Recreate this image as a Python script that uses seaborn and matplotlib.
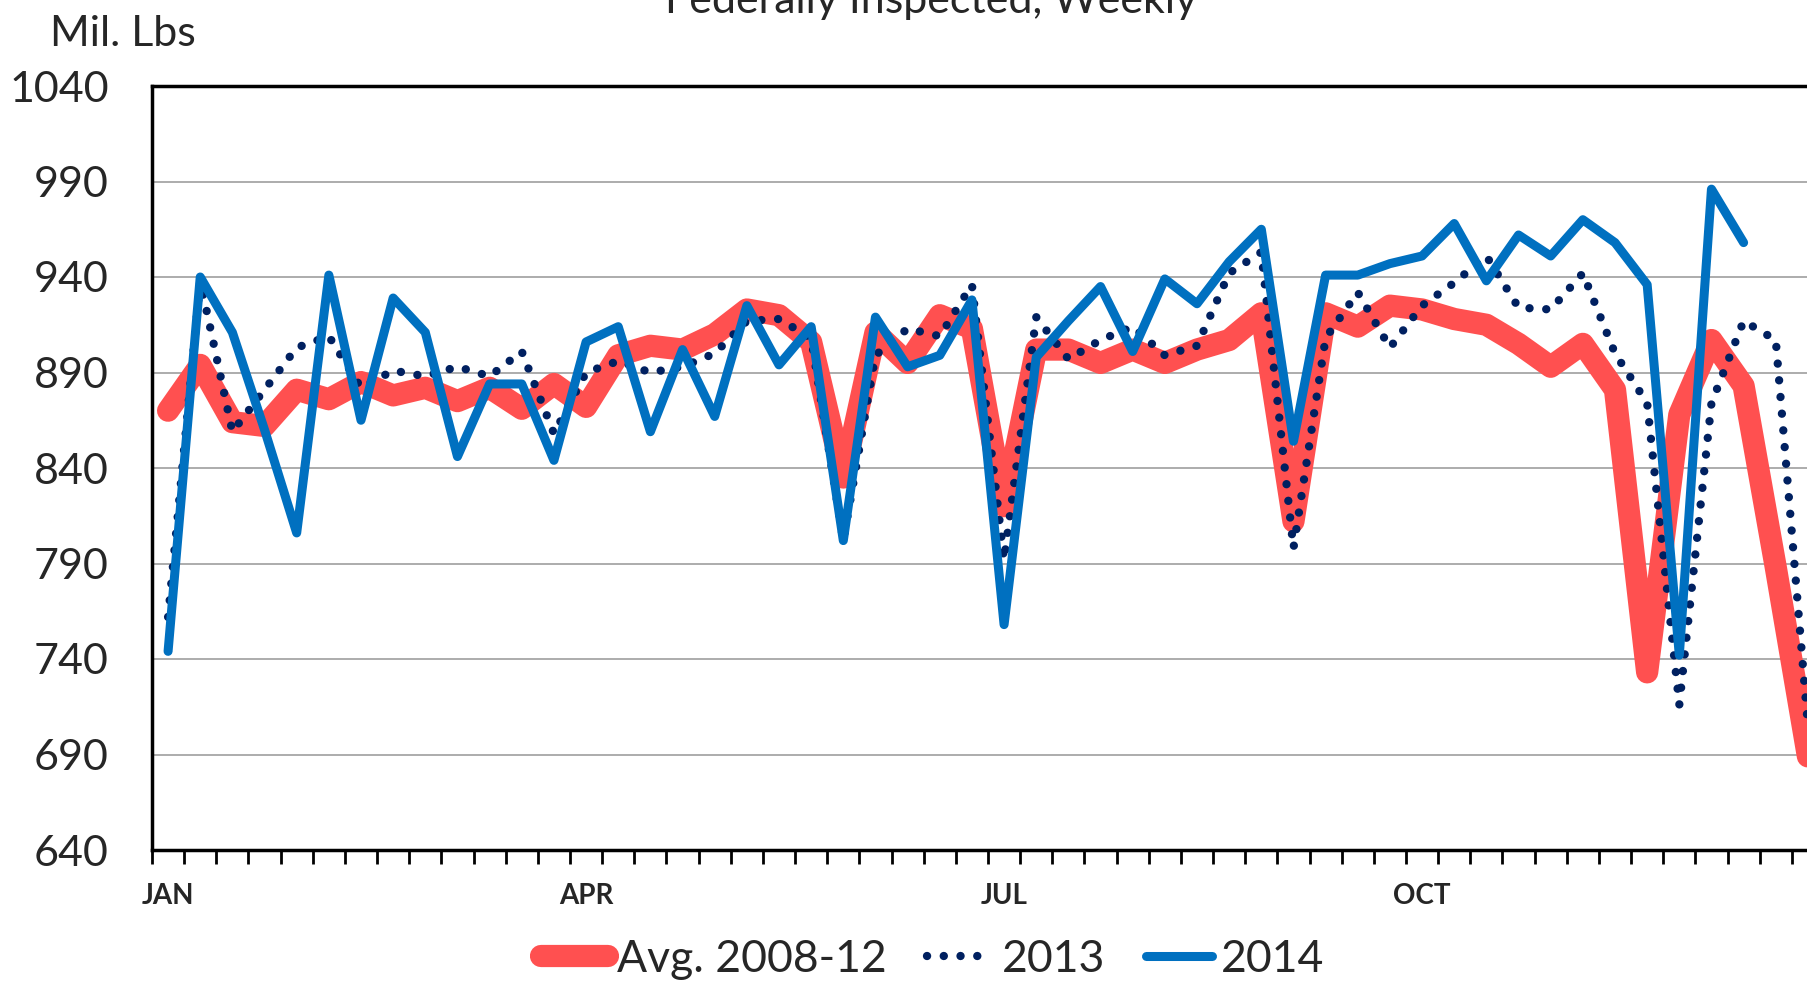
import numpy as np
import pandas as pd
import matplotlib
matplotlib.use("Agg")
import matplotlib.pyplot as plt
import seaborn as sns
from matplotlib.ticker import FixedLocator

# weekly data, week 0 = first week of January
month_labels = ["JAN", "APR", "JUL", "OCT"]
month_weeks = [0, 13, 26, 39]

avg_2008_12 = [870, 894, 864, 862, 881, 876, 885, 878, 882, 875,
               882, 871, 884, 872, 899, 904, 902, 910, 923, 920,
               906, 835, 911, 895, 920, 913, 820, 902, 902, 895,
               902, 895, 902, 907, 921, 812, 921, 914, 925, 923,
               918, 915, 905, 893, 905, 881, 733, 868, 907, 883,
               788, 689]
y2013 = [762, 938, 859, 881, 903, 909, 882, 891, 888, 893,
         888, 901, 858, 890, 896, 890, 893, 900, 917, 918,
         908, 802, 899, 913, 909, 936, 792, 919, 897, 907,
         914, 899, 904, 942, 953, 798, 908, 932, 903, 925,
         937, 951, 924, 923, 942, 900, 874, 716, 874, 917,
         907, 705]
y2014 = [744, 940, 911, 860, 806, 941, 865, 929, 911, 846,
         884, 884, 844, 906, 914, 859, 902, 867, 925, 894,
         914, 802, 919, 893, 899, 928, 758, 898, 917, 935,
         901, 939, 926, 948, 965, 854, 941, 941, 947, 951,
         968, 938, 962, 951, 970, 958, 936, 742, 986, 958]

sns.set_style("white")
plt.rcParams['font.family'] = ['Lato', 'DejaVu Sans']

W, H = 1807, 981
fig = plt.figure(figsize=(W / 100, H / 100), dpi=100)
# plot area runs past the right edge of the picture, like the cropped original
ax = fig.add_axes([152 / W, 1 - 850 / H, 1672 / W, (850 - 86) / H])

sns.lineplot(x=np.arange(len(avg_2008_12)), y=avg_2008_12, ax=ax, color='#FF5050',
             lw=16, label='Avg. 2008-12', legend=False)
sns.lineplot(x=np.arange(len(y2013)), y=y2013, ax=ax, color='#002060',
             lw=6, label='2013', legend=False)
sns.lineplot(x=np.arange(len(y2014)), y=y2014, ax=ax, color='#0070C0',
             lw=6.5, label='2014', legend=False)

red, dotted, blue = ax.lines[:3]
for ln in (red, blue):
    ln.set_solid_capstyle('round')
    ln.set_solid_joinstyle('round')
dotted.set_linestyle((0, (0.01, 2.0)))
dotted.set_dash_capstyle('round')

ax.set_xlim(-0.5, 51.5)
ax.set_ylim(640, 1040)
ax.set_yticks(range(640, 1041, 50))
ax.set_xticks(month_weeks)
ax.set_xticklabels(month_labels, fontsize=20, fontweight='bold')
ax.xaxis.set_minor_locator(FixedLocator(np.arange(-0.5, 52, 1)))
ax.tick_params(axis='x', which='minor', length=10, width=2, direction='out',
               color='black', bottom=True)
ax.tick_params(axis='x', which='major', length=0, pad=24)
ax.tick_params(axis='y', length=0, pad=31, labelsize=31)
ax.set_xlabel('')
ax.set_ylabel('')

ax.yaxis.grid(True, color='#A6A6A6', lw=1.3)
ax.xaxis.grid(False)
ax.set_axisbelow(True)
for side in ('left', 'top', 'bottom'):
    ax.spines[side].set_color('black')
    ax.spines[side].set_linewidth(2.5)
ax.spines['right'].set_visible(False)

fig.text(931 / W, 1 - 13 / H, 'Federally Inspected, Weekly', ha='center',
         va='baseline', fontsize=31)
fig.text(50 / W, 1 - 46 / H, 'Mil. Lbs', ha='left', va='baseline', fontsize=31)

fig.legend(handles=[red, dotted, blue], labels=['Avg. 2008-12', '2013', '2014'],
           loc='center', bbox_to_anchor=(933 / W, 1 - 959 / H), ncol=3,
           frameon=False, fontsize=32, handlelength=1.5, handletextpad=0.2,
           columnspacing=0.9, borderaxespad=0)

fig.savefig('out.png', dpi=100)
